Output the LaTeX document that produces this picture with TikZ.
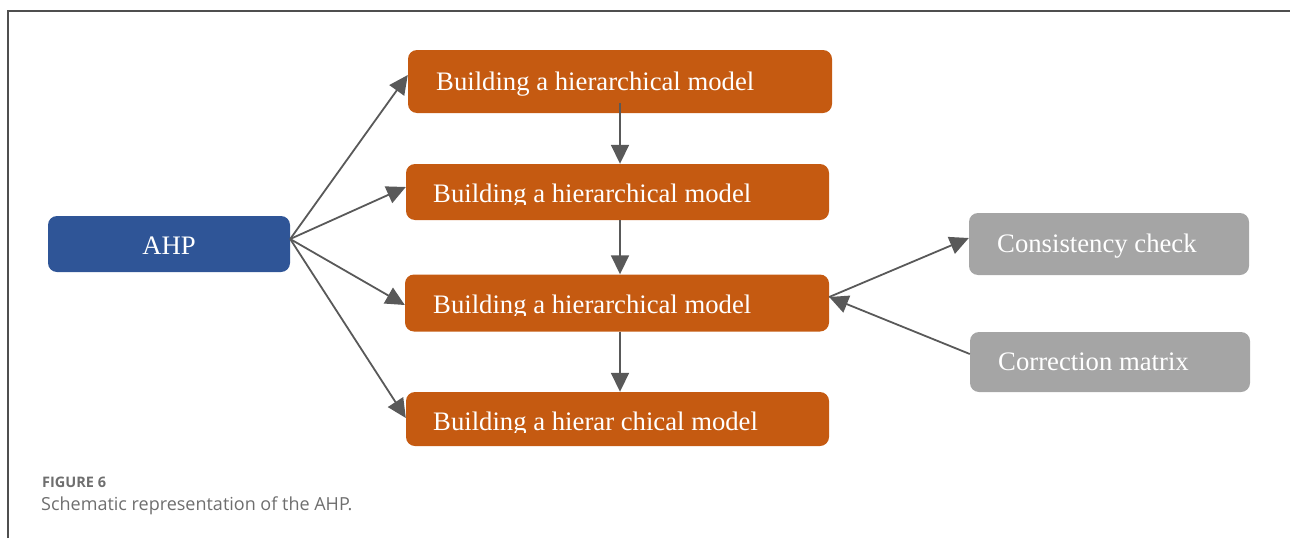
\documentclass[tikz,border=0pt]{standalone}
\usepackage{fontspec}
\setmainfont{Liberation Serif}
\newfontfamily\capfont{Open Sans}
\usetikzlibrary{arrows.meta,calc}

\definecolor{ahpblue}{HTML}{2F5597}
\definecolor{steporange}{HTML}{C55A11}
\definecolor{checkgray}{HTML}{A5A5A5}
\definecolor{linkgray}{HTML}{595959}
\definecolor{framegray}{HTML}{4F4F4F}
\definecolor{captiongray}{HTML}{6E6E6E}

\begin{document}
\begin{tikzpicture}[x=1pt,y=-1pt,
  box/.style={rounded corners=9pt, inner sep=0pt, draw=none},
  ahpbox/.style={box, fill=ahpblue},
  stepbox/.style={box, fill=steporange},
  checkbox/.style={box, fill=checkgray},
  boxtext/.style={text=white, font=\fontsize{26.7}{30}\selectfont, inner sep=0pt, anchor=base west},
  link/.style={draw=linkgray, line width=1.8pt, -{Triangle[length=19pt,width=18pt]}},
]
\useasboundingbox (0,0) rectangle (1290,538);

% frame lines along the top and left edges
\draw[framegray, line width=1.5pt] (8,538) -- (8,11) -- (1290,11);

% boxes
\node[ahpbox, minimum width=242pt, minimum height=56pt] (ahp) at (169,244) {};
\node[stepbox, minimum width=424pt, minimum height=63pt] (b1) at (620,81.5) {};
\node[stepbox, minimum width=423pt, minimum height=56pt] (b2) at (617.5,192) {};
\node[stepbox, minimum width=424pt, minimum height=57pt] (b3) at (617,303) {};
\node[stepbox, minimum width=423pt, minimum height=54pt] (b4) at (617.5,419) {};
\node[checkbox, minimum width=280pt, minimum height=62pt] (cons) at (1109,244) {};
\node[checkbox, minimum width=280pt, minimum height=60pt] (corr) at (1110,362) {};

% labels
\node[boxtext, anchor=base] (tahp) at (169,254) {AHP};
\node[boxtext] (t1) at (436,90) {Building a hierarchical model};
\begin{scope}
  \clip (420,170) rectangle (820,204.5);
  \node[boxtext] (t2) at (433,202) {Building a hierarchical model};
\end{scope}
\begin{scope}
  \clip (420,280) rectangle (820,315.5);
  \node[boxtext] (t3) at (433,313) {Building a hierarchical model};
\end{scope}
\begin{scope}
  \clip (420,398) rectangle (820,432);
  \node[boxtext] (t4) at (433,430) {Building a hierar chical model};
\end{scope}
\node[boxtext] (tcons) at (997,252) {Consistency check};
\node[boxtext] (tcorr) at (998,370) {Correction matrix};

% connectors
\coordinate (hub) at ([yshift=5pt]ahp.east);
\draw[link] (hub) -- ([yshift=6.5pt]b1.west);
\draw[link] (hub) -- ([yshift=5pt]b2.west);
\draw[link] (hub) -- ([yshift=-2pt]b3.west);
\draw[link] (hub) -- ([yshift=1pt]b4.west);

\draw[link] ([yshift=10pt]b1.south) -- (b1.south |- b2.north);
\draw[link] (b1.south |- b2.south) -- (b1.south |- b3.north);
\draw[link] (b1.south |- b3.south) -- (b1.south |- b4.north);

\coordinate (side) at ([yshift=6pt]b3.east);
\draw[link] (side) -- ([yshift=6pt]cons.west);
\draw[link] ([yshift=8pt]corr.west) -- (side);

% caption
\node[anchor=base west, inner sep=0pt, text=captiongray, font=\capfont\fontsize{14.5}{17}\selectfont\bfseries] (fig) at (42,487) {FIGURE 6};
\node[anchor=base west, inner sep=0pt, text=captiongray, font=\capfont\fontsize{18}{21}\selectfont] (cap) at (41,510) {Schematic representation of the AHP.};
\end{tikzpicture}
\end{document}
